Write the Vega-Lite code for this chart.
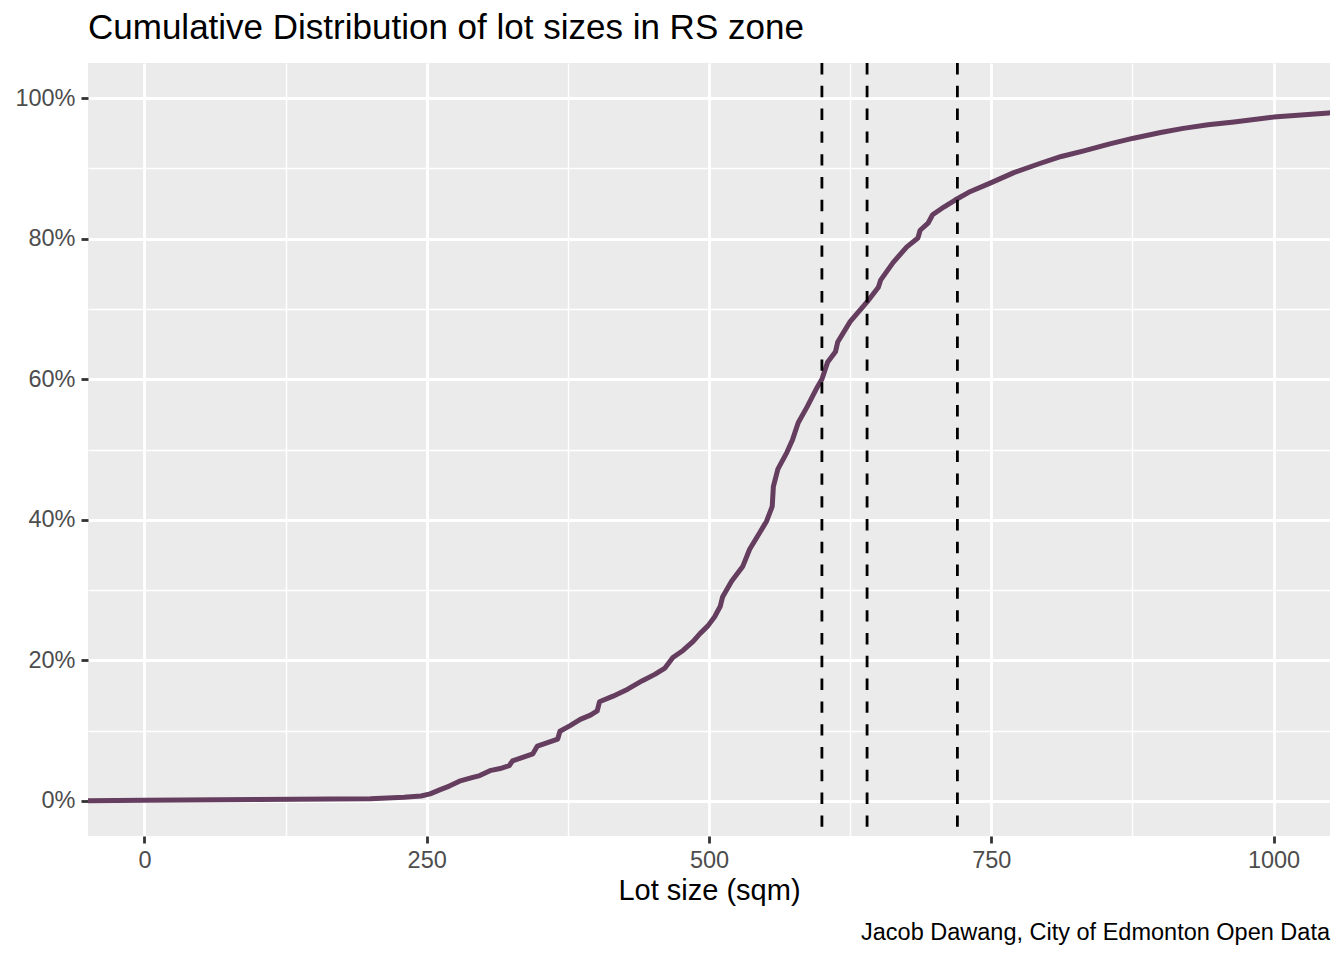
{
  "$schema": "https://vega.github.io/schema/vega-lite/v6.json",
  "width": 1242,
  "height": 773,
  "autosize": {"type": "none"},
  "padding": {"left": 88, "top": 63, "right": 14, "bottom": 124},
  "background": "white",
  "title": {
    "text": "Cumulative Distribution of lot sizes in RS zone",
    "anchor": "start",
    "frame": "group",
    "font": "Liberation Sans",
    "fontSize": 35,
    "fontWeight": "normal",
    "color": "black",
    "offset": 16
  },
  "config": {
    "view": {"fill": "#EBEBEB", "stroke": null},
    "axis": {
      "domain": false,
      "gridColor": "white",
      "labelFont": "Liberation Sans",
      "labelFontSize": 23.5,
      "labelColor": "#4D4D4D",
      "tickColor": "#333333",
      "tickWidth": 2.8,
      "tickSize": 7,
      "labelPadding": 5,
      "titleFont": "Liberation Sans",
      "titleFontSize": 29,
      "titleFontWeight": "normal",
      "titleColor": "black"
    }
  },
  "layer": [
    {
      "data": {
        "values": [
          {"lot_size": -55, "cum": 0.0},
          {"lot_size": 0, "cum": 0.001},
          {"lot_size": 100, "cum": 0.002},
          {"lot_size": 200, "cum": 0.003},
          {"lot_size": 230, "cum": 0.005},
          {"lot_size": 245, "cum": 0.007},
          {"lot_size": 253, "cum": 0.01},
          {"lot_size": 262, "cum": 0.016},
          {"lot_size": 270, "cum": 0.021},
          {"lot_size": 279, "cum": 0.028},
          {"lot_size": 290, "cum": 0.033},
          {"lot_size": 297, "cum": 0.036},
          {"lot_size": 306, "cum": 0.043},
          {"lot_size": 315, "cum": 0.046},
          {"lot_size": 323, "cum": 0.05},
          {"lot_size": 326, "cum": 0.057},
          {"lot_size": 335, "cum": 0.062},
          {"lot_size": 344, "cum": 0.067},
          {"lot_size": 348, "cum": 0.078},
          {"lot_size": 357, "cum": 0.083},
          {"lot_size": 366, "cum": 0.088},
          {"lot_size": 368, "cum": 0.099},
          {"lot_size": 377, "cum": 0.107},
          {"lot_size": 386, "cum": 0.116},
          {"lot_size": 395, "cum": 0.122},
          {"lot_size": 401, "cum": 0.128},
          {"lot_size": 403, "cum": 0.141},
          {"lot_size": 415, "cum": 0.149},
          {"lot_size": 428, "cum": 0.159},
          {"lot_size": 441, "cum": 0.171},
          {"lot_size": 452, "cum": 0.18},
          {"lot_size": 461, "cum": 0.189},
          {"lot_size": 468, "cum": 0.204},
          {"lot_size": 477, "cum": 0.214},
          {"lot_size": 486, "cum": 0.227},
          {"lot_size": 492, "cum": 0.238},
          {"lot_size": 499, "cum": 0.249},
          {"lot_size": 505, "cum": 0.262},
          {"lot_size": 510, "cum": 0.277},
          {"lot_size": 512, "cum": 0.29},
          {"lot_size": 520, "cum": 0.3125},
          {"lot_size": 530, "cum": 0.334},
          {"lot_size": 536, "cum": 0.358},
          {"lot_size": 545, "cum": 0.382},
          {"lot_size": 551, "cum": 0.398},
          {"lot_size": 556, "cum": 0.419},
          {"lot_size": 557, "cum": 0.447},
          {"lot_size": 561, "cum": 0.472},
          {"lot_size": 569, "cum": 0.496},
          {"lot_size": 574, "cum": 0.514},
          {"lot_size": 579, "cum": 0.538},
          {"lot_size": 587, "cum": 0.561},
          {"lot_size": 596, "cum": 0.589},
          {"lot_size": 600, "cum": 0.6},
          {"lot_size": 605, "cum": 0.624},
          {"lot_size": 612, "cum": 0.639},
          {"lot_size": 614, "cum": 0.653},
          {"lot_size": 625, "cum": 0.682},
          {"lot_size": 640, "cum": 0.71},
          {"lot_size": 650, "cum": 0.731},
          {"lot_size": 652, "cum": 0.741},
          {"lot_size": 663, "cum": 0.766},
          {"lot_size": 675, "cum": 0.788},
          {"lot_size": 685, "cum": 0.801},
          {"lot_size": 687, "cum": 0.812},
          {"lot_size": 694, "cum": 0.822},
          {"lot_size": 698, "cum": 0.834},
          {"lot_size": 708, "cum": 0.845},
          {"lot_size": 718, "cum": 0.855},
          {"lot_size": 730, "cum": 0.866},
          {"lot_size": 749, "cum": 0.879},
          {"lot_size": 770, "cum": 0.894},
          {"lot_size": 793, "cum": 0.907},
          {"lot_size": 812, "cum": 0.917},
          {"lot_size": 832, "cum": 0.925},
          {"lot_size": 855, "cum": 0.935},
          {"lot_size": 876, "cum": 0.943},
          {"lot_size": 900, "cum": 0.951},
          {"lot_size": 920, "cum": 0.957},
          {"lot_size": 942, "cum": 0.962},
          {"lot_size": 965, "cum": 0.966},
          {"lot_size": 1000, "cum": 0.973},
          {"lot_size": 1049, "cum": 0.979},
          {"lot_size": 1060, "cum": 0.98}
        ]
      },
      "mark": {"type": "line", "clip": true, "color": "#653D5F", "strokeWidth": 5, "strokeJoin": "round"},
      "encoding": {
        "x": {
          "field": "lot_size",
          "type": "quantitative",
          "scale": {"domain": [-50, 1050], "nice": false, "zero": false},
          "axis": {
            "title": "Lot size (sqm)",
            "values": [0, 125, 250, 375, 500, 625, 750, 875, 1000],
            "format": "d",
            "labelExpr": "datum.value % 250 === 0 ? datum.label : ''",
            "gridWidth": {"condition": {"test": "datum.value % 250 === 0", "value": 2.8}, "value": 1.4},
            "tickOpacity": {"condition": {"test": "datum.value % 250 === 0", "value": 1}, "value": 0},
            "titlePadding": 5
          }
        },
        "y": {
          "field": "cum",
          "type": "quantitative",
          "scale": {"domain": [-0.05, 1.05], "nice": false, "zero": false},
          "axis": {
            "title": null,
            "labelPadding": 6,
            "values": [0, 0.1, 0.2, 0.3, 0.4, 0.5, 0.6, 0.7, 0.8, 0.9, 1.0],
            "labelExpr": "round(datum.value * 10) % 2 === 0 ? format(datum.value, '.0%') : ''",
            "gridWidth": {"condition": {"test": "round(datum.value * 10) % 2 === 0", "value": 2.8}, "value": 1.4},
            "tickOpacity": {"condition": {"test": "round(datum.value * 10) % 2 === 0", "value": 1}, "value": 0}
          }
        }
      }
    },
    {
      "data": {"values": [{"threshold": 600}, {"threshold": 640}, {"threshold": 720}]},
      "mark": {"type": "rule", "color": "black", "strokeWidth": 2.8, "strokeDash": [11.4, 11.4]},
      "encoding": {
        "x": {"field": "threshold", "type": "quantitative"}
      }
    },
    {
      "data": {"values": [{"caption": "Jacob Dawang, City of Edmonton Open Data"}]},
      "mark": {
        "type": "text",
        "clip": false,
        "align": "right",
        "baseline": "alphabetic",
        "font": "Liberation Sans",
        "fontSize": 23.5,
        "color": "black",
        "dy": 104
      },
      "encoding": {
        "x": {"value": "width"},
        "y": {"value": "height"},
        "text": {"field": "caption", "type": "nominal"}
      }
    }
  ]
}
